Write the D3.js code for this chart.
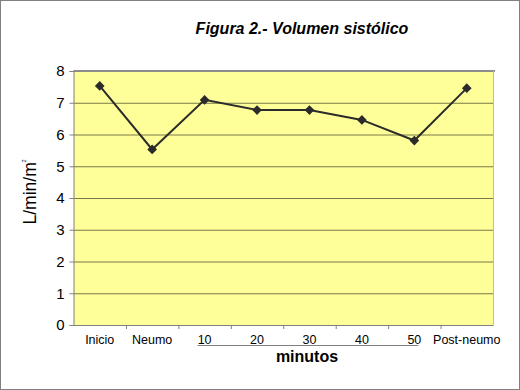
<!DOCTYPE html>
<html><head><meta charset="utf-8">
<script src="https://cdn.jsdelivr.net/npm/d3@7"></script>
<style>body{margin:0;background:#fff}svg{display:block}</style>
</head><body>
<script>
const categories = ["Inicio","Neumo","10","20","30","40","50","Post-neumo"];
const values = [7.53, 5.53, 7.09, 6.77, 6.77, 6.46, 5.81, 7.46];
const yTicks = [0,1,2,3,4,5,6,7,8];
const title = "Figura 2.- Volumen sistólico";
const xTitle = "minutos";

const W = 520, H = 390;
const m = {left: 73.5, right: 493, top: 71, bottom: 325};
const svg = d3.select("body").append("svg").attr("width", W).attr("height", H);
svg.append("rect").attr("x",0.5).attr("y",0.5).attr("width",W-1).attr("height",H-1)
  .attr("fill","#fff").attr("stroke","#808080");

const x = d3.scaleBand().domain(categories).range([m.left, m.right]).padding(0);
const y = d3.scaleLinear().domain([0,8]).range([m.bottom, m.top]);

svg.append("rect").attr("x",m.left).attr("y",m.top).attr("width",m.right-m.left).attr("height",m.bottom-m.top)
  .attr("fill","#ffff99");

// gridlines
svg.append("g").selectAll("line").data(yTicks.filter(d=>d>0 && d<8)).join("line")
  .attr("x1",m.left).attr("x2",m.right).attr("y1",d=>y(d)+0.5).attr("y2",d=>y(d)+0.5)
  .attr("stroke","#7a7a4a").attr("stroke-width",1);
// top line
svg.append("line").attr("x1",m.left).attr("x2",m.right+2).attr("y1",y(8)).attr("y2",y(8))
  .attr("stroke","#8c8c8c").attr("stroke-width",2);
// right edge
svg.append("line").attr("x1",m.right+0.5).attr("x2",m.right+0.5).attr("y1",m.top).attr("y2",m.bottom)
  .attr("stroke","#c0c0a0").attr("stroke-width",1);

// y axis
const yAxis = svg.append("g").attr("transform",`translate(${m.left},0)`)
  .call(d3.axisLeft(y).tickValues(yTicks).tickSize(4).tickPadding(5).tickFormat(d3.format("d")));
yAxis.select(".domain").attr("stroke","#808080");
yAxis.selectAll(".tick line").attr("stroke","#808080");
yAxis.selectAll("text").attr("font-family","Arial, 'Liberation Sans', sans-serif").attr("font-size",15).attr("fill","#000");

// x axis
const xAxis = svg.append("g").attr("transform",`translate(0,${m.bottom})`)
  .call(d3.axisBottom(x).tickSize(0).tickPadding(10));
xAxis.select(".domain").attr("stroke","#808080");
xAxis.selectAll("text").attr("font-family","Arial, 'Liberation Sans', sans-serif").attr("font-size",12.5).attr("fill","#000");
// category boundary ticks
const bounds = categories.slice(1).map(c => x(c));
svg.append("g").selectAll("line").data(bounds).join("line")
  .attr("x1",d=>d+0.5).attr("x2",d=>d+0.5).attr("y1",m.bottom).attr("y2",m.bottom+4)
  .attr("stroke","#808080");

// underline under minutes
svg.append("line").attr("x1",x("10")+ x.bandwidth()/2 - 7).attr("x2",x("50")+x.bandwidth()/2+4)
  .attr("y1",345.5).attr("y2",345.5).attr("stroke","#808080").attr("stroke-width",1);

// line
const line = d3.line().x((d,i)=>x(categories[i])+x.bandwidth()/2).y(d=>y(d));
svg.append("path").datum(values).attr("d",line).attr("fill","none").attr("stroke","#2b2b2b").attr("stroke-width",2);
svg.append("g").selectAll("path").data(values).join("path")
  .attr("d", d3.symbol(d3.symbolDiamond2, 60))
  .attr("transform",(d,i)=>`translate(${x(categories[i])+x.bandwidth()/2},${y(d)})`)
  .attr("fill","#2b2b2b");

// titles
svg.append("text").attr("x",302).attr("y",34).attr("text-anchor","middle")
  .attr("font-family","Arial, 'Liberation Sans', sans-serif").attr("font-size",16).attr("font-weight","bold").attr("font-style","italic")
  .text(title);
svg.append("text").attr("x",307).attr("y",362).attr("text-anchor","middle")
  .attr("font-family","Arial, 'Liberation Sans', sans-serif").attr("font-size",16).attr("font-weight","bold")
  .text(xTitle);
const yt = svg.append("text").attr("transform","translate(36,192) rotate(-90)").attr("text-anchor","middle")
  .attr("font-family","Arial, 'Liberation Sans', sans-serif").attr("font-size",17.5);
yt.append("tspan").text("L/min/m");
yt.append("tspan").attr("font-size",5).attr("dy",-10).text("2");
</script>
</body></html>
